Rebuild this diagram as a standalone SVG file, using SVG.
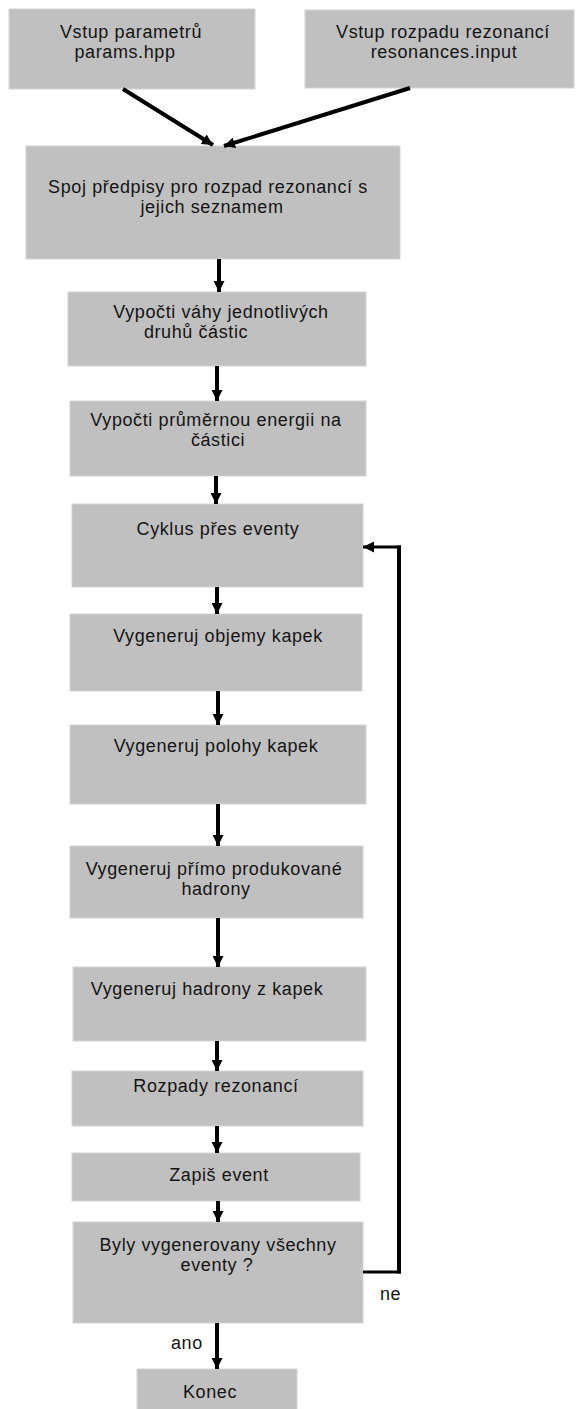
<svg xmlns="http://www.w3.org/2000/svg" width="577" height="1409" viewBox="0 0 577 1409">
<style>
.box{fill:#c0c0c0;stroke:#d4d4d4;stroke-width:1}
.t{font-family:"Liberation Sans",Arial,sans-serif;font-size:18px;letter-spacing:0.6px;fill:#141414;text-anchor:middle}
.lbl{font-family:"Liberation Sans",Arial,sans-serif;font-size:18px;letter-spacing:0.6px;fill:#141414}
.c{stroke:#000;stroke-width:4;fill:none}
.c3{stroke:#000;stroke-width:3;fill:none}
</style>
<defs>
<marker id="ah" markerUnits="userSpaceOnUse" markerWidth="11" markerHeight="11" refX="11" refY="5.5" orient="auto">
<path d="M0,0 L11,5.5 L0,11 z" fill="#000"/>
</marker>
</defs>
<rect width="577" height="1409" fill="#fff"/>
<g id="n1"><rect class="box" x="9" y="9" width="246" height="80"/><text class="t" x="131" y="38">Vstup parametrů</text><text class="t" x="125" y="58">params.hpp</text></g>
<g id="n2"><rect class="box" x="305" y="10" width="269" height="78"/><text class="t" x="443" y="38">Vstup rozpadu rezonancí</text><text class="t" x="444" y="58">resonances.input</text></g>
<g id="n3"><rect class="box" x="26" y="146" width="374" height="113"/><text class="t" x="208" y="193">Spoj předpisy pro rozpad rezonancí s</text><text class="t" x="212" y="213">jejich seznamem</text></g>
<g id="n4"><rect class="box" x="68" y="292" width="298" height="74"/><text class="t" x="221" y="318">Vypočti váhy jednotlivých</text><text class="t" x="196" y="338">druhů částic</text></g>
<g id="n5"><rect class="box" x="70" y="401" width="296" height="75"/><text class="t" x="216" y="426">Vypočti průměrnou energii na</text><text class="t" x="218" y="446">částici</text></g>
<g id="n6"><rect class="box" x="72" y="504" width="291" height="83"/><text class="t" x="218" y="535">Cyklus přes eventy</text></g>
<g id="n7"><rect class="box" x="70" y="614" width="292" height="77"/><text class="t" x="218" y="642">Vygeneruj objemy kapek</text></g>
<g id="n8"><rect class="box" x="70" y="725" width="296" height="79"/><text class="t" x="216" y="752">Vygeneruj polohy kapek</text></g>
<g id="n9"><rect class="box" x="70" y="846" width="293" height="72"/><text class="t" x="214" y="875">Vygeneruj přímo produkované</text><text class="t" x="216" y="895">hadrony</text></g>
<g id="n10"><rect class="box" x="73" y="967" width="293" height="74"/><text class="t" x="207" y="995">Vygeneruj hadrony z kapek</text></g>
<g id="n11"><rect class="box" x="72" y="1071" width="291" height="55"/><text class="t" x="216" y="1092">Rozpady rezonancí</text></g>
<g id="n12"><rect class="box" x="72" y="1153" width="288" height="48"/><text class="t" x="219" y="1181">Zapiš event</text></g>
<g id="n13"><rect class="box" x="73" y="1222" width="290" height="101"/><text class="t" x="218" y="1251">Byly vygenerovany všechny</text><text class="t" x="217" y="1271">eventy ?</text></g>
<g id="n14"><rect class="box" x="137" y="1369" width="160" height="45"/><text class="t" x="210" y="1398">Konec</text></g>
<g id="connectors">
<line class="c" x1="123" y1="89" x2="213" y2="145" marker-end="url(#ah)"/>
<line class="c" x1="410" y1="88" x2="224" y2="146" marker-end="url(#ah)"/>
<line class="c" x1="219" y1="259" x2="219" y2="292" marker-end="url(#ah)"/>
<line class="c" x1="217" y1="366" x2="217" y2="401" marker-end="url(#ah)"/>
<line class="c" x1="216" y1="476" x2="216" y2="504" marker-end="url(#ah)"/>
<line class="c" x1="217" y1="587" x2="217" y2="614" marker-end="url(#ah)"/>
<line class="c" x1="218" y1="691" x2="218" y2="725" marker-end="url(#ah)"/>
<line class="c" x1="218" y1="804" x2="218" y2="846" marker-end="url(#ah)"/>
<line class="c" x1="218" y1="918" x2="218" y2="967" marker-end="url(#ah)"/>
<line class="c" x1="217" y1="1041" x2="217" y2="1071" marker-end="url(#ah)"/>
<line class="c" x1="217" y1="1126" x2="217" y2="1153" marker-end="url(#ah)"/>
<line class="c" x1="218" y1="1201" x2="218" y2="1222" marker-end="url(#ah)"/>
<line class="c" x1="217" y1="1323" x2="217" y2="1369" marker-end="url(#ah)"/>
<line class="c3" x1="363" y1="1272" x2="401" y2="1272"/>
<line class="c" x1="399" y1="1273.5" x2="399" y2="545.5"/>
<line class="c3" x1="401" y1="547" x2="363" y2="547" marker-end="url(#ah)"/>
<text class="lbl" x="380" y="1300">ne</text>
<text class="lbl" x="171" y="1349">ano</text>
</g>
</svg>
